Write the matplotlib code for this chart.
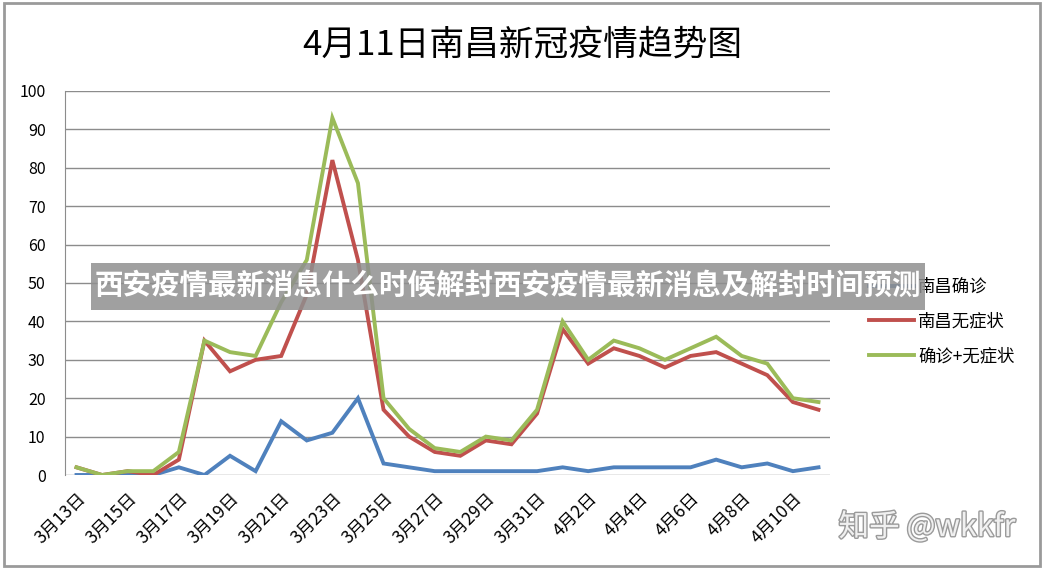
import numpy as np
import matplotlib.pyplot as plt
import matplotlib.patheffects as pe
from matplotlib.patches import Rectangle

plt.rcParams['font.family'] = ['Noto Sans CJK SC', 'DejaVu Sans']

# dados
datas = [f"3月{d}日" for d in range(13, 32)] + [f"4月{d}日" for d in range(1, 12)]
confirmados = [0, 0, 0, 0, 2, 0, 5, 1, 14, 9, 11, 20, 3, 2, 1, 1, 1, 1, 1,
               2, 1, 2, 2, 2, 2, 4, 2, 3, 1, 2]
assintomaticos = [2, 0, 1, 0, 4, 35, 27, 30, 31, 47, 82, 56, 17, 10, 6, 5, 9, 8, 16,
                  38, 29, 33, 31, 28, 31, 32, 29, 26, 19, 17]
total = [2, 0, 1, 1, 6, 35, 32, 31, 45, 56, 93, 76, 20, 12, 7, 6, 10, 9, 17,
         40, 30, 35, 33, 30, 33, 36, 31, 29, 20, 19]
nomes = ["南昌确诊", "南昌无症状", "确诊+无症状"]
cores = ["#4F81BD", "#C0504D", "#9BBB59"]

fig = plt.figure(figsize=(10.44, 5.73), dpi=100)
ax = fig.add_axes([65/1044, 1-475/573, (830-65)/1044, (475-91)/573])

x = np.arange(len(datas))
for serie, nome, cor in zip([confirmados, assintomaticos, total], nomes, cores):
    ax.plot(x, serie, color=cor, lw=2.8, label=nome, solid_joinstyle='miter')

ax.set_ylim(0, 100)
ax.set_yticks(range(0, 101, 10))
ax.set_xlim(-0.45, len(datas) - 0.55)
ax.set_xticks(x[::2])
ax.set_xticklabels(datas[::2], rotation=45, ha='right', rotation_mode='anchor', fontsize=12.5)
ax.tick_params(axis='y', labelsize=11.5, length=0, pad=14)
ax.tick_params(axis='x', length=0, pad=10)
ax.grid(axis='y', color='#8c8c8c', lw=1)
ax.set_axisbelow(True)
for s in ['top', 'right', 'bottom']:
    ax.spines[s].set_visible(False)
ax.spines['left'].set_color('#8c8c8c')

fig.text(0.5, 1-45/573, "4月11日南昌新冠疫情趋势图", ha='center', va='center', fontsize=25,
         weight='medium')

ax.legend(loc='center left', bbox_to_anchor=(1.03, 0.4), frameon=False, fontsize=12.5,
          handlelength=2.6, labelspacing=0.95, handletextpad=0.25)

# moldura
fig.patches.append(Rectangle((0.004, 0.012), 0.992, 0.983, transform=fig.transFigure,
                             fill=False, ec='#9a9a9a', lw=2))

# marca d'água
fig.patches.append(Rectangle((91/1044, 1-310/573), (925-91)/1044, 47/573,
                             transform=fig.transFigure, fc='#8f8f8f', alpha=0.85, ec='none', zorder=5))
fig.text(508/1044, 1-286/573, "西安疫情最新消息什么时候解封西安疫情最新消息及解封时间预测",
         ha='center', va='center', fontsize=20.5, color='white', weight='bold', zorder=6)
fig.text(927/1044, 1-527/573, "知乎 @wkkfr", ha='center', va='center', fontsize=22,
         color='#f0f0f0', zorder=6,
         path_effects=[pe.withStroke(linewidth=2, foreground='#9a9a9a')])

fig.savefig("out.png", dpi=100)
